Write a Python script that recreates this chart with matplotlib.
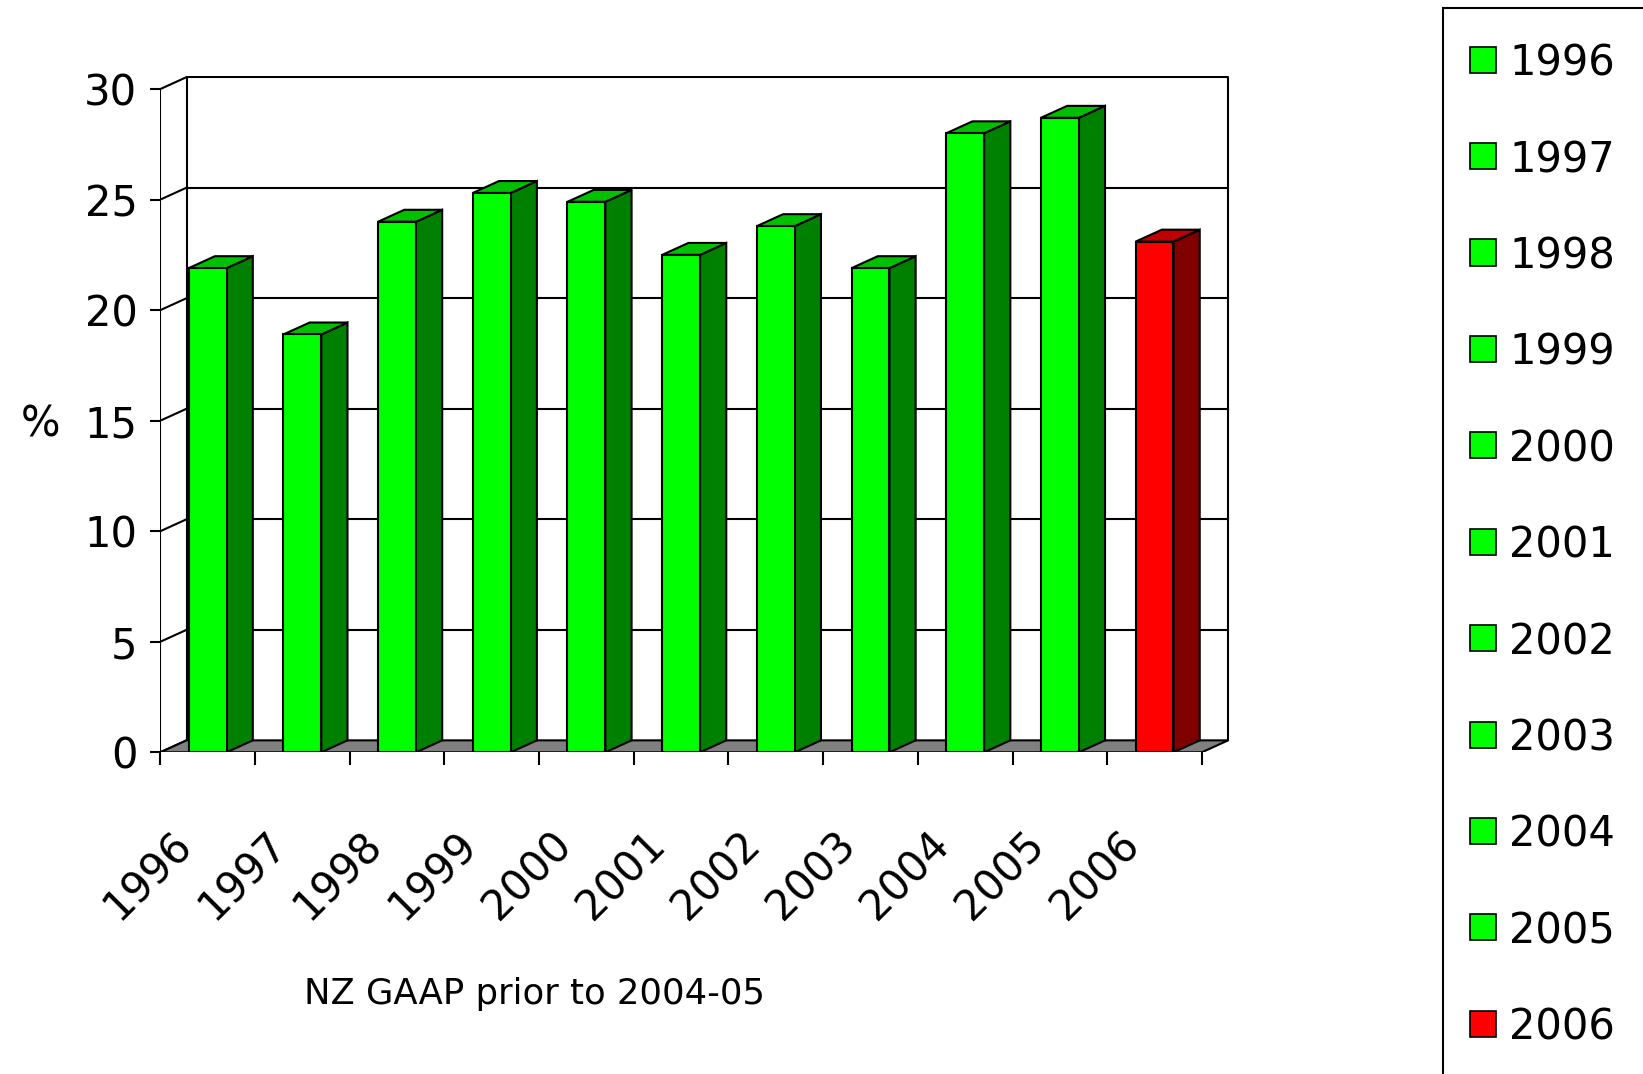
import matplotlib
matplotlib.use("Agg")
import matplotlib.pyplot as plt
from matplotlib.patches import Polygon, Rectangle
import matplotlib.transforms as mtransforms

# donnees
years = ["1996", "1997", "1998", "1999", "2000", "2001",
         "2002", "2003", "2004", "2005", "2006"]
values = [21.9, 18.9, 24.0, 25.3, 24.9, 22.5, 23.8, 21.9, 28.0, 28.7, 23.1]
yticks = [0, 5, 10, 15, 20, 25, 30]
caption = "NZ GAAP prior to 2004-05"

# couleurs (face, cote, dessus)
green = ("#00FF00", "#008000", "#00C000")
red = ("#FF0000", "#800000", "#C00000")
colors = [green] * 10 + [red]

W, H = 1643, 1074
fig = plt.figure(figsize=(W / 100, H / 100), dpi=100)
plt.rcParams['font.family'] = ['DejaVu Sans']

n = len(years)
dx, dy = 0.277, 0.54   # profondeur 3D
ymax = 30

ax = fig.add_axes([160.3 / W, 1 - 752.3 / H, 1070 / W, 676.5 / H])
ax.set_xlim(0, n + 0.3)
ax.set_ylim(0, ymax + 0.6)
for s in ax.spines.values():
    s.set_visible(False)
ax.patch.set_visible(False)

lw = 1.5
# mur du fond
ax.plot([dx, dx, n + dx, n + dx], [dy, ymax + dy, ymax + dy, dy], color="black", lw=lw, zorder=1)
for v in yticks[1:-1]:
    ax.plot([dx, n + dx], [v + dy, v + dy], color="black", lw=lw, zorder=1)
# mur de gauche
for v in yticks:
    ax.plot([0, dx], [v, v + dy], color="black", lw=lw, zorder=1)
ax.plot([0, 0], [0, ymax], color="black", lw=lw, zorder=1)
# sol
ax.add_patch(Polygon([(0, 0), (n, 0), (n + dx, dy), (dx, dy)], closed=True,
                     facecolor="#808080", edgecolor="black", lw=lw, zorder=2))

# barres
xs = [i + 0.5 for i in range(n)]
ax.bar(xs, values, width=0.4, color=[c[0] for c in colors], edgecolor="black",
       linewidth=lw, zorder=4)
for i, v in enumerate(values):
    x0, x1 = i + 0.3, i + 0.7
    ax.add_patch(Polygon([(x1, 0), (x1 + dx, dy), (x1 + dx, v + dy), (x1, v)], closed=True,
                         facecolor=colors[i][1], edgecolor="black", lw=lw, zorder=3))
    ax.add_patch(Polygon([(x0, v), (x1, v), (x1 + dx, v + dy), (x0 + dx, v + dy)], closed=True,
                         facecolor=colors[i][2], edgecolor="black", lw=lw, zorder=3))

# axes
ax.set_yticks(yticks)
ax.set_yticklabels([str(t) for t in yticks])
ax.tick_params(axis="y", length=7.5, width=lw, pad=9, labelsize=30)
ax.set_xticks(range(n + 1))
ax.set_xticklabels([])
ax.tick_params(axis="x", which="major", length=9.5, width=lw)
ax.set_xticks(xs, minor=True)
ax.set_xticklabels(years, minor=True, rotation=45, ha="right", va="top")
ax.tick_params(axis="x", which="minor", length=0, pad=51, labelsize=30)
off = mtransforms.ScaledTranslation(-7 / 100, 0, fig.dpi_scale_trans)
for lbl in ax.get_xticklabels(minor=True):
    lbl.set_transform(lbl.get_transform() + off)

ax.set_ylabel("%", rotation=0, fontsize=30, ha="center", va="center")
ax.yaxis.set_label_coords(-0.112, 0.485)

fig.text(534 / W, 1 - 994 / H, caption, ha="center", va="center", fontsize=25.5)

# legende
fig.patches.append(Rectangle((1443 / W, -0.01), 0.2, 1 - 8.4 / H + 0.01,
                             transform=fig.transFigure, facecolor="white",
                             edgecolor="black", lw=lw, figure=fig))
for k, (yr, c) in enumerate(zip(years, colors)):
    yc = 59.7 + 96.4 * k
    fig.patches.append(Rectangle((1470 / W, 1 - (yc + 13) / H), 26 / W, 26 / H,
                                 transform=fig.transFigure, facecolor=c[0],
                                 edgecolor="black", lw=1.2, figure=fig))
    fig.text(1509 / W, 1 - (yc + 4) / H, yr, ha="left", va="center", fontsize=30)

fig.savefig("out.png", dpi=100)
